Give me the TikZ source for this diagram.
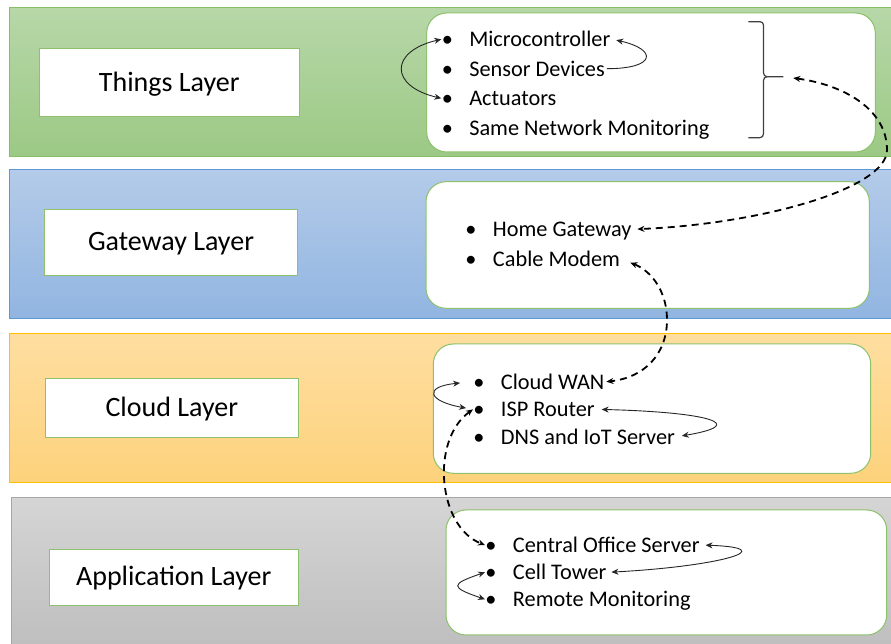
\documentclass[tikz,border=0pt]{standalone}
\usepackage{fontspec}
\setmainfont{Carlito}
\usetikzlibrary{arrows.meta, positioning}

% band fills (top/bottom of the gradient) and outlines
\definecolor{thingstop}{RGB}{183,215,168}
\definecolor{thingsbot}{RGB}{156,201,133}
\definecolor{thingsline}{RGB}{135,189,103}
\definecolor{gatetop}{RGB}{180,203,233}
\definecolor{gatebot}{RGB}{145,181,225}
\definecolor{gateline}{RGB}{91,155,213}
\definecolor{cloudtop}{RGB}{254,222,160}
\definecolor{cloudbot}{RGB}{253,210,124}
\definecolor{cloudline}{RGB}{255,192,0}
\definecolor{apptop}{RGB}{213,213,213}
\definecolor{appbot}{RGB}{190,190,190}
\definecolor{appline}{RGB}{166,166,166}
\definecolor{boxgreen}{RGB}{141,193,108}

\tikzset{
  band/.style n args={3}{top color=#1, bottom color=#2, draw=#3, line width=1pt},
  layerbox/.style={draw=boxgreen, fill=white, line width=1pt, font=\fontsize{28}{34}\selectfont, text height=22pt, text depth=5pt},
  listbox/.style={draw=boxgreen, fill=white, line width=1pt, rounded corners=20pt},
  item/.style={anchor=west, inner sep=0pt, outer sep=2pt, text height=15pt, text depth=0pt, font=\fontsize{22.3}{27}\selectfont},
  link/.style={line width=0.9pt, draw=black!85},
  dashlink/.style={line width=1.8pt, dash pattern=on 7pt off 5pt},
}
\newcommand{\listentry}[1]{\makebox[8pt]{\textbullet}\hspace{18pt}#1}

\begin{document}
\begin{tikzpicture}[x=1pt, y=1pt, >={Stealth[length=7pt, width=6pt]}]
\useasboundingbox[fill=white] (0,0) rectangle (891,644);

% layer bands
\path[band={thingstop}{thingsbot}{thingsline}] (9.5,636.5) rectangle (896,487);
\path[band={gatetop}{gatebot}{gateline}] (9.5,474) rectangle (896,325);
\path[band={cloudtop}{cloudbot}{cloudline}] (9.5,310) rectangle (896,161);
\path[band={apptop}{appbot}{appline}] (11,146.5) rectangle (896,-5);

% layer names
\node[layerbox, minimum width=259.5pt, minimum height=68pt] (things) at (169.3,561) {Things Layer};
\node[layerbox, minimum width=253pt, minimum height=66pt] (gateway) at (171,401.5) {Gateway Layer};
\node[layerbox, minimum width=252.5pt, minimum height=58.7pt] (cloud) at (171.8,236.3) {Cloud Layer};
\node[layerbox, minimum width=248.5pt, minimum height=56.4pt] (application) at (173.8,66.5) {Application Layer};

% lists of components
\draw[listbox] (426.7,631) rectangle (875.3,492);
\draw[listbox] (426,462.3) rectangle (869.3,335.7);
\draw[listbox] (433.3,300) rectangle (870.7,170.7);
\draw[listbox] (446,134) rectangle (886.7,9);

\node[item] (micro) at (441.3,604.7) {\listentry{Microcontroller}};
\node[item] (sensor) at (441.3,575.3) {\listentry{Sensor Devices}};
\node[item] (actuator) at (441.3,545.7) {\listentry{Actuators}};
\node[item] (samenet) at (441.3,516.3) {\listentry{Same Network Monitoring}};

\node[item] (homegw) at (465,414.7) {\listentry{Home Gateway}};
\node[item] (modem) at (465,384.7) {\listentry{Cable Modem}};

\node[item] (wan) at (473,262.3) {\listentry{Cloud WAN}};
\node[item] (isp) at (473,234.7) {\listentry{ISP Router}};
\node[item] (dns) at (473,207.3) {\listentry{DNS and IoT Server}};

\node[item] (central) at (485,99) {\listentry{Central Office Server}};
\node[item] (tower) at (485,71.7) {\listentry{Cell Tower}};
\node[item] (remote) at (485,44.7) {\listentry{Remote Monitoring}};

% brace grouping the things
\coordinate (bracetip) at (783.3,567.3);
\draw[line width=1.2pt, black!75] (748.3,622.3) -- (760,622.3) to[out=0,in=90] (763.5,619) -- (763.5,571)
  to[out=-90,in=180] (767,567.3) -- (bracetip);
\draw[line width=1.2pt, black!75] (767,567.3) to[out=180,in=90] (763.5,563.5) -- (763.5,510.3)
  to[out=-90,in=0] (760,506.3) -- (748.3,506.3);

% links inside the layers
\draw[link, <->] (micro.west) .. controls +(-52,-12) and +(-52,12) .. (actuator.west);
\draw[link, ->, shorten >=4pt] (sensor.east) .. controls +(50,0) and +(45,-10) .. (micro.east);
\draw[link, <->, shorten <=13pt, shorten >=7pt] (wan.west) .. controls +(-50,-5) and +(-45,8) .. (isp.west);
\draw[link, <->, shorten <=5pt, shorten >=5pt] (isp.east) .. controls +(115,-3) and +(72,12) .. (dns.east);
\draw[link, <->, shorten <=4pt, shorten >=3pt] (central.east) .. controls +(82,-3) and +(112,6) .. (tower.east);
\draw[link, <->] (tower.west) .. controls +(-35,-12) and +(-35,12) .. (remote.west);

% links between the layers
\draw[dashlink, <->, shorten <=10pt, shorten >=4pt] (bracetip) .. controls (845,559) and (887,534) .. (887,494)
  .. controls (887,455) and (760,420) .. (homegw.east);
\draw[dashlink, <->, shorten <=9pt] (modem.east) .. controls +(30,-12) and +(0,28) .. (667,324)
  .. controls +(0,-34) and +(38,4) .. (wan.east);
\draw[dashlink, <->] (isp.west) .. controls +(-43,-31) and +(-47,18) .. (central.west);
\end{tikzpicture}
\end{document}
